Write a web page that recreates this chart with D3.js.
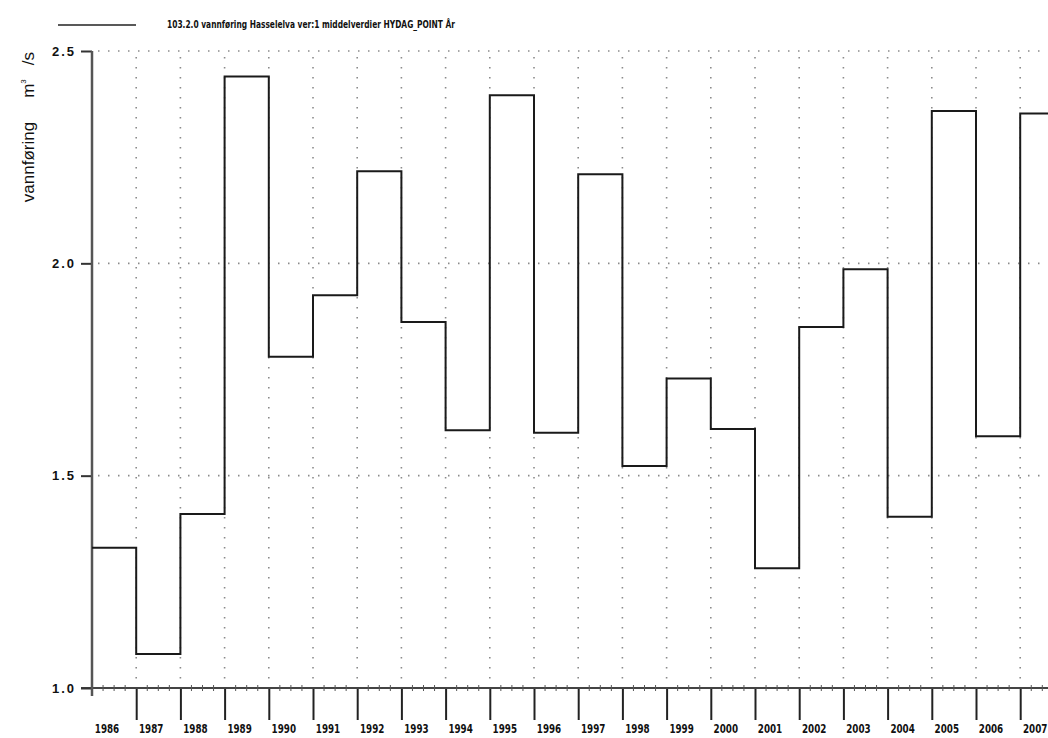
<!DOCTYPE html>
<html><head><meta charset="utf-8">
<script src="https://cdn.jsdelivr.net/npm/d3@7/dist/d3.min.js"></script>
<style>body{margin:0;background:#fff}svg{display:block}</style>
</head><body>
<svg id="c" width="1048" height="738"></svg>
<script>
const years = [1986,1987,1988,1989,1990,1991,1992,1993,1994,1995,1996,1997,1998,1999,2000,2001,2002,2003,2004,2005,2006,2007];
const values = [1.33,1.08,1.41,2.44,1.78,1.925,2.217,1.862,1.607,2.396,1.601,2.21,1.523,1.729,1.61,1.282,1.85,1.986,1.403,2.359,1.593,2.353];
const yTicks = [1.0,1.5,2.0,2.5];
const gridY = [1.5,2.0,2.5];
const titleText = "103.2.0 vannføring Hasselelva ver:1 middelverdier HYDAG_POINT År";

const svg = d3.select("#c");
const x = d3.scaleLinear().domain([1986, 2008]).range([92, 92 + 22*44.2]);
const y = d3.scaleLinear().domain([1.0, 2.5]).range([688, 51]);

// grid
const grid = svg.append("g").attr("stroke","#8a8a8a").attr("stroke-width",1.6).attr("stroke-dasharray","1.5,8.5");
grid.selectAll("line.h").data(gridY).join("line").attr("class","h")
  .attr("x1", x(1986)+6).attr("x2", 1048).attr("y1", d=>y(d)).attr("y2", d=>y(d));
grid.selectAll("line.v").data(d3.range(1987, 2009)).join("line").attr("class","v")
  .attr("x1", d=>x(d)).attr("x2", d=>x(d)).attr("y1", y(2.5)+6).attr("y2", y(1.0));

// x axis
const xAxis = d3.axisBottom(x).tickValues(d3.range(1987, 2009)).tickSize(32).tickSizeOuter(0).tickFormat("");
const gx = svg.append("g").attr("transform", `translate(0,${y(1.0)})`).call(xAxis);
gx.select(".domain").remove();
gx.selectAll(".tick line").attr("stroke","#222").attr("stroke-width",2);
svg.append("line").attr("x1", 81).attr("x2", 1048).attr("y1", y(1.0)).attr("y2", y(1.0))
  .attr("stroke","#444").attr("stroke-width",2);
// minor quarterly ticks
const minor = d3.range(1986, 2008.01, 0.25).filter(d => Math.abs(d - Math.round(d)) > 0.01);
svg.append("g").selectAll("line").data(minor).join("line")
  .attr("x1", d=>x(d)).attr("x2", d=>x(d)).attr("y1", y(1.0)-3).attr("y2", y(1.0)+3)
  .attr("stroke","#555").attr("stroke-width",1);
// year labels
svg.append("g").selectAll("text").data(years).join("text")
  .attr("transform", d => `translate(${x(d) + 15},733) scale(0.75,1)`).attr("text-anchor","middle")
  .attr("font-family","'Liberation Sans Narrow', 'DejaVu Sans Condensed', sans-serif")
  .attr("font-weight","bold").attr("font-size", 13)
  .attr("fill","#111").text(d => d);

// y axis
const yAxis = d3.axisLeft(y).tickValues(yTicks).tickSize(11).tickSizeOuter(0).tickPadding(5).tickFormat(d3.format(".1f"));
const gy = svg.append("g").attr("transform", `translate(${x(1986)},0)`).call(yAxis);
gy.select(".domain").remove();
gy.selectAll(".tick line").attr("stroke","#333").attr("stroke-width",2);
gy.selectAll(".tick text").attr("font-family","'Liberation Sans', Arial, sans-serif")
  .attr("font-weight","bold").attr("font-size",13).attr("letter-spacing","2px").attr("fill","#111");
svg.append("line").attr("x1", x(1986)).attr("x2", x(1986)).attr("y1", y(2.5)).attr("y2", 696)
  .attr("stroke","#555").attr("stroke-width",2.5);

// step line
const stepData = years.map((yr,i)=>[yr, values[i]]);
stepData.push([2008, values[values.length-1]]);
svg.append("path").datum(stepData)
  .attr("d", d3.line().x(d=>x(d[0])).y(d=>y(d[1])).curve(d3.curveStepAfter))
  .attr("fill","none").attr("stroke","#1a1a1a").attr("stroke-width",2);

// y title
const yt = svg.append("text").attr("transform","translate(34,52) rotate(-90)")
  .attr("text-anchor","end").attr("font-family","'Liberation Sans', Arial, sans-serif")
  .attr("font-size",17).attr("fill","#111");
yt.append("tspan").text("vannføring");
yt.append("tspan").attr("dx", 24).text("m");
yt.append("tspan").attr("dy",-8).attr("font-size",8).text("3");
yt.append("tspan").attr("dy",8).attr("dx",14).text("/s");

// legend
svg.append("line").attr("x1",58).attr("x2",136).attr("y1",25).attr("y2",25).attr("stroke","#222").attr("stroke-width",1.5);
svg.append("text").attr("x",167).attr("y",28).attr("font-family","'Liberation Sans Narrow', 'DejaVu Sans Condensed', sans-serif")
  .attr("font-weight","bold").attr("font-size",10).attr("textLength",288).attr("lengthAdjust","spacingAndGlyphs")
  .attr("fill","#111").text(titleText);
</script>
</body></html>
